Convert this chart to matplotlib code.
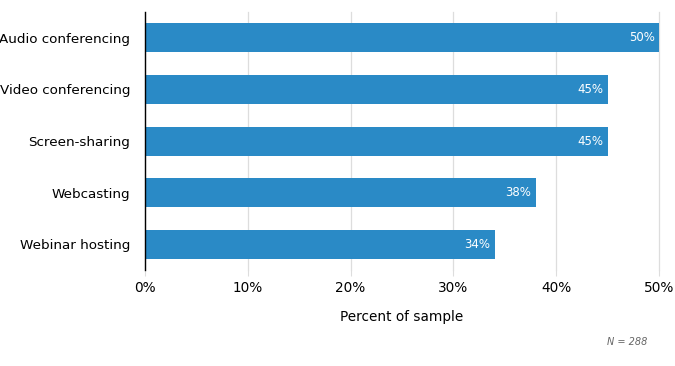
import matplotlib
matplotlib.use("Agg")
import matplotlib.pyplot as plt

categories = ["Audio conferencing", "Video conferencing", "Screen-sharing", "Webcasting", "Webinar hosting"]
values = [50, 45, 45, 38, 34]
xticks = [0, 10, 20, 30, 40, 50]
xtick_labels = ["0%", "10%", "20%", "30%", "40%", "50%"]

plt.rcParams['font.family'] = ['DejaVu Sans']
fig = plt.figure(figsize=(6.75, 3.66), dpi=100)
ax = fig.add_axes([0.2148, 0.262, 0.7615, 0.705])

color = "#2a8ac6"
ypos = list(range(len(categories)))
ax.barh(ypos, values, height=0.56, color=color, zorder=3)
for y, v in zip(ypos, values):
    ax.text(v - 0.4, y, f"{v}%", color="white", ha="right", va="center", fontsize=8.5, zorder=4)

ax.set_ylim(len(categories) - 0.5, -0.5)
ax.set_xlim(0, 50)
ax.set_yticks(ypos)
ax.set_yticklabels(categories, fontsize=9.7)
ax.set_xticks(xticks)
ax.set_xticklabels(xtick_labels, fontsize=9.8)
ax.tick_params(axis='y', length=0, pad=10.5)
ax.tick_params(axis='x', length=4, color="#dddddd", pad=4)
ax.grid(axis='x', color="#dddddd", linewidth=0.9, zorder=0)
for gl in ax.get_xgridlines():
    gl.set_clip_on(False)
for s in ["top", "right", "bottom"]:
    ax.spines[s].set_visible(False)
ax.spines["left"].set_color("black")
ax.spines["left"].set_linewidth(1.0)
ax.spines["left"].set_zorder(5)
ax.set_xlabel("Percent of sample", fontsize=9.8, labelpad=11)
fig.text(627 / 675, 1 - 342 / 366, "N = 288", fontsize=7, style="italic", color="#666666", ha="center", va="center")

fig.savefig("out.png", dpi=100)
